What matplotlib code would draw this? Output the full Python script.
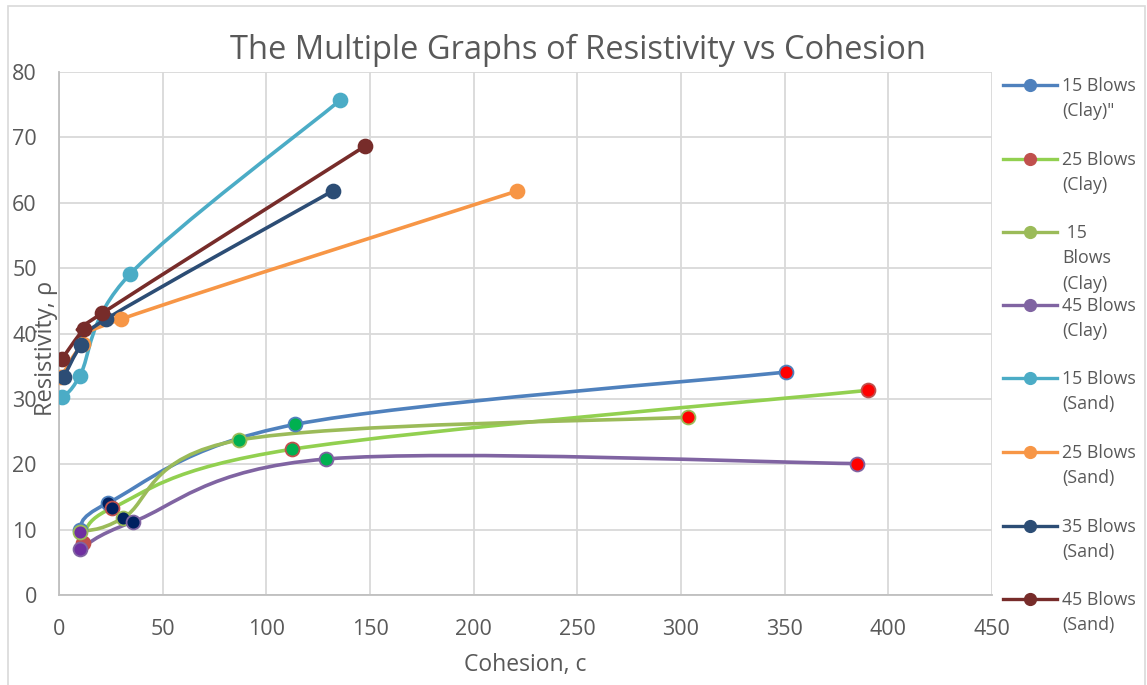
import matplotlib
matplotlib.use("Agg")
import matplotlib.pyplot as plt
from matplotlib.path import Path
from matplotlib.patches import PathPatch, Rectangle
from matplotlib.lines import Line2D
import numpy as np

plt.rcParams['font.family'] = ['Open Sans', 'DejaVu Sans']

# ---- data -------------------------------------------------------------
labels = ['15 Blows\n(Clay)"', '25 Blows\n(Clay)', ' 15\nBlows\n(Clay)', '45 Blows\n(Clay)',
          '15 Blows\n(Sand)', '25 Blows\n(Sand)', '35 Blows\n(Sand)', '45 Blows\n(Sand)']

clay15_x = [10.0, 23.7, 114.0, 350.7]
clay15_y = [9.9, 14.1, 26.1, 34.1]
clay25_x = [11.6, 25.6, 112.5, 390.0]
clay25_y = [8.0, 13.3, 22.3, 31.3]
clay15b_x = [10.0, 31.0, 87.0, 303.4]
clay15b_y = [9.7, 11.8, 23.7, 27.2]
clay45_x = [10.0, 35.7, 129.0, 385.0]
clay45_y = [7.0, 11.2, 20.8, 20.1]

sand15_x = [1.4, 10.0, 34.3, 135.7]
sand15_y = [30.3, 33.5, 49.1, 75.7]
sand25_x = [1.0, 11.6, 30.0, 221.0]
sand25_y = [33.3, 38.4, 42.2, 61.8]
sand35_x = [2.4, 10.6, 22.7, 132.0]
sand35_y = [33.4, 38.2, 42.2, 61.8]
sand45_x = [1.4, 12.0, 20.8, 147.8]
sand45_y = [36.1, 40.7, 43.1, 68.7]

xs = [clay15_x, clay25_x, clay15b_x, clay45_x, sand15_x, sand25_x, sand35_x, sand45_x]
ys = [clay15_y, clay25_y, clay15b_y, clay45_y, sand15_y, sand25_y, sand35_y, sand45_y]

line_colors = ['#4F81BD', '#92D050', '#9BBB59', '#8064A2',
               '#4BACC6', '#F79646', '#2C4D75', '#772C2A']
legend_marker = ['#4F81BD', '#C0504D', '#9BBB59', '#8064A2',
                 '#4BACC6', '#F79646', '#2C4D75', '#772C2A']
edge_colors = ['#4F81BD', '#C0504D', '#9BBB59', '#8064A2',
               '#4BACC6', '#F79646', '#2C4D75', '#772C2A']
# per-point fills for the clay series (highlighted points)
clay_fills = [
    ['#4F81BD', '#002060', '#00B050', '#FF0000'],
    ['#C0504D', '#002060', '#00B050', '#FF0000'],
    ['#7030A0', '#002060', '#00B050', '#FF0000'],
    ['#7030A0', '#002060', '#00B050', '#FF0000'],
]

# ---- figure -----------------------------------------------------------
W, H = 1147, 685
fig = plt.figure(figsize=(W / 100, H / 100), dpi=100)
ax = fig.add_axes([59 / W, 1 - 595 / H, (992 - 59) / W, (595 - 72) / H])

grid_c = '#D9D9D9'
text_c = '#595959'


def smooth_path(x, y):
    """Bezier path through the points (Excel-style smoothed line)."""
    p = np.column_stack([x, y]).astype(float)
    n = len(p)
    verts = [p[0]]
    codes = [Path.MOVETO]
    for i in range(n - 1):
        p0 = p[i - 1] if i > 0 else p[i]
        p1 = p[i]
        p2 = p[i + 1]
        p3 = p[i + 2] if i + 2 < n else p[i + 1]
        c1 = p1 + (p2 - p0) / 6.0
        c2 = p2 - (p3 - p1) / 6.0
        verts += [c1, c2, p2]
        codes += [Path.CURVE4] * 3
    return Path(verts, codes)


for k in range(8):
    patch = PathPatch(smooth_path(xs[k], ys[k]), facecolor='none',
                      edgecolor=line_colors[k], lw=2.6, zorder=3,
                      capstyle='round', joinstyle='round')
    ax.add_patch(patch)

for k in range(8):
    for j in range(len(xs[k])):
        fc = clay_fills[k][j] if k < 4 else line_colors[k]
        ax.plot(xs[k][j], ys[k][j], 'o', ms=10, mfc=fc, mec=edge_colors[k],
                mew=1.3, zorder=4 + k * 0.1)

ax.set_xlim(0, 450)
ax.set_ylim(0, 80)
ax.set_xticks(np.arange(0, 451, 50))
ax.set_yticks(np.arange(0, 81, 10))
ax.grid(True, color=grid_c, lw=1.3)
ax.set_axisbelow(True)
for s in ['top', 'right']:
    ax.spines[s].set_visible(False)
for s in ['left', 'bottom']:
    ax.spines[s].set_color('#BFBFBF')
    ax.spines[s].set_linewidth(1.3)
ax.tick_params(length=0, labelsize=15.5, colors=text_c)
ax.tick_params(axis='x', pad=17)
ax.tick_params(axis='y', pad=16)

fig.text(578 / W, 1 - 50 / H, 'The Multiple Graphs of Resistivity vs Cohesion',
         ha='center', va='center', fontsize=23.5, color=text_c)
fig.text(525 / W, 1 - 665 / H, 'Cohesion, c', ha='center', va='center',
         fontsize=16.5, color=text_c)
fig.text(46 / W, 1 - 348 / H, 'Resistivity, ρ', ha='center', va='center',
         rotation=90, fontsize=17, color=text_c)

# ---- legend -----------------------------------------------------------
leg_y = [85, 159, 232, 305, 378, 452, 526, 599]
for k in range(8):
    yy = 1 - leg_y[k] / H
    fig.add_artist(Line2D([1003 / W, 1057 / W], [yy, yy], color=line_colors[k],
                          lw=2.4, transform=fig.transFigure))
    fig.add_artist(Line2D([1030 / W], [yy], marker='o', ms=8.5,
                          mfc=legend_marker[k], mec=legend_marker[k],
                          transform=fig.transFigure))
    fig.text(1062 / W, yy + 8 / H, labels[k], ha='left', va='top',
             fontsize=12.8, color=text_c, linespacing=1.52)

# chart border
fig.add_artist(Rectangle((8 / W, -0.05), (1145 - 8) / W, 1.05 - 6 / H,
                         transform=fig.transFigure, fill=False,
                         edgecolor=grid_c, lw=1.2))

fig.savefig('out.png', dpi=100)
